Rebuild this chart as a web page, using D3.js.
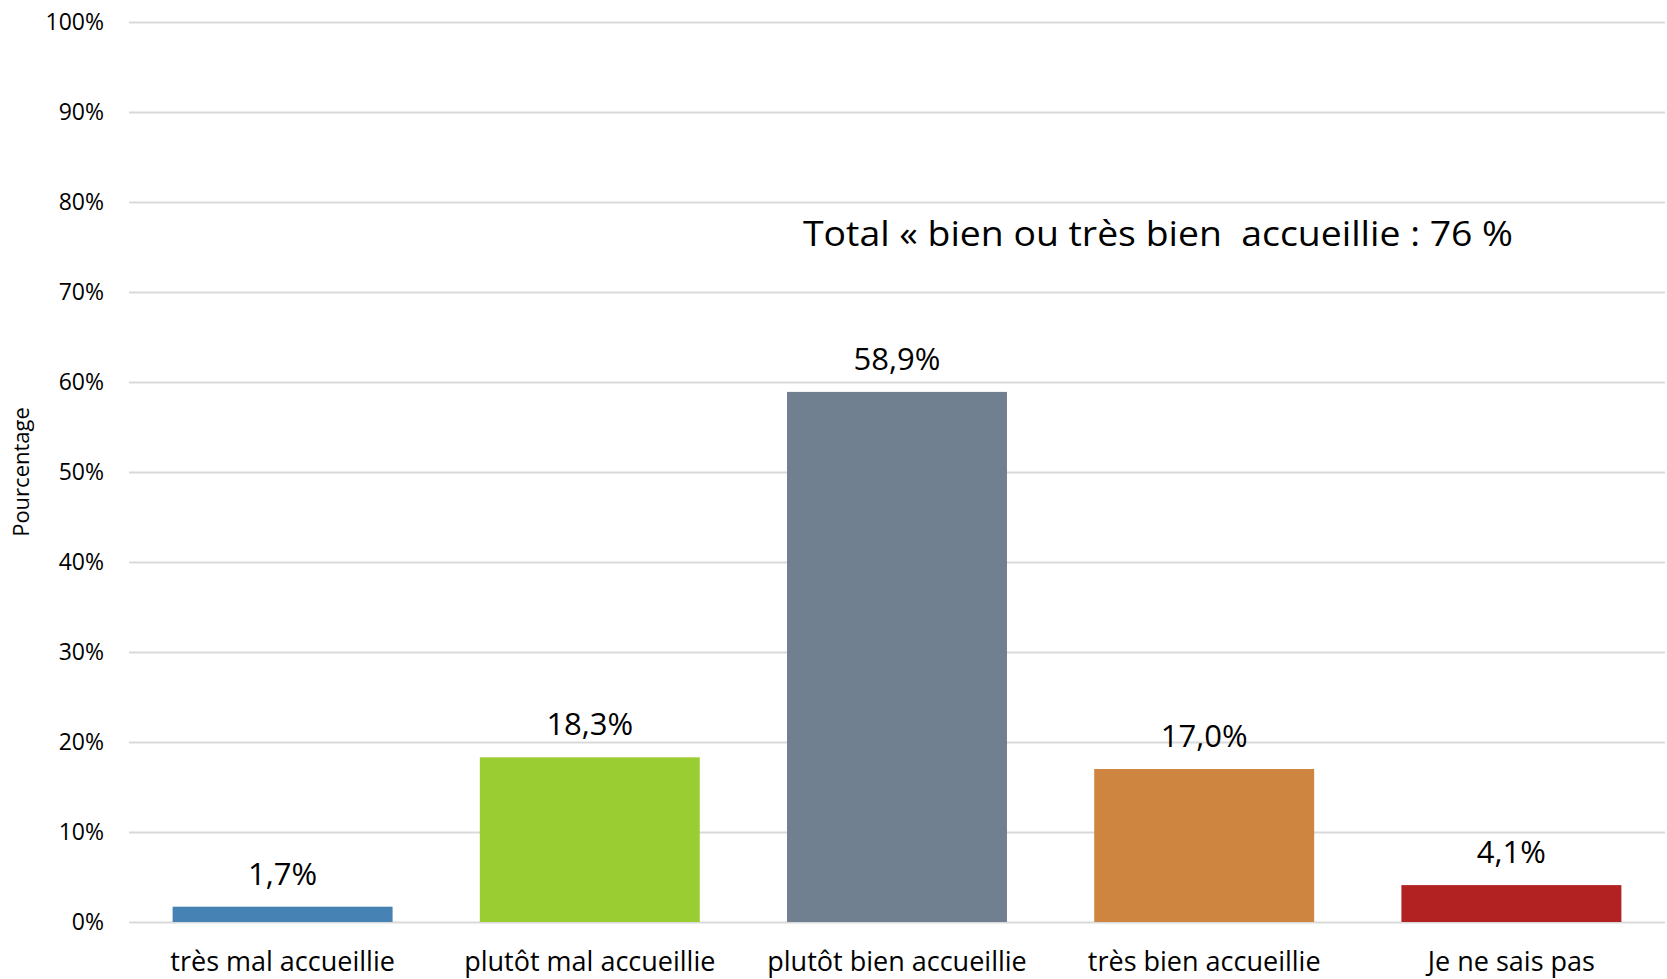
<!DOCTYPE html>
<html>
<head>
<meta charset="utf-8">
<script src="https://cdn.jsdelivr.net/npm/d3@7"></script>
<style>
  body { margin: 0; background: #fff; }
  text { font-family: "Open Sans", sans-serif; fill: #000; }
</style>
</head>
<body>
<script>
const categories = ['très mal accueillie', 'plutôt mal accueillie', 'plutôt bien accueillie', 'très bien accueillie', 'Je ne sais pas']
const values = [1.7, 18.3, 58.9, 17.0, 4.1]
const colors = ['#4682B4', '#9ACD32', '#708090', '#CD853F', '#B22222']
const yTicks = [0, 10, 20, 30, 40, 50, 60, 70, 80, 90, 100]
const annotation = 'Total « bien ou très bien  accueillie : 76 %'

const w = 1667
const h = 979
const plotTop = 22
const plotBottom = 922
const plotLeft = 129
const plotRight = 1665

const svg = d3.select('body')
  .append('svg')
  .attr('width', w)
  .attr('height', h)

const xScale = d3.scaleBand()
  .domain(categories)
  .range([plotLeft, plotRight])
  .paddingInner(0.284)
  .paddingOuter(0.142)

const yScale = d3.scaleLinear()
  .domain([0, 100])
  .range([plotBottom, plotTop])

// gridlines + y tick labels
const yAxis = d3.axisLeft(yScale)
  .tickValues(yTicks)
  .tickFormat(d => d + '%')
  .tickSize(-(plotRight - plotLeft))
  .tickPadding(25)

const gy = svg.append('g')
  .attr('transform', `translate(${plotLeft},0)`)
  .call(yAxis)
gy.select('.domain').remove()
gy.selectAll('.tick line').attr('stroke', '#d9d9d9').attr('stroke-width', 2)
gy.selectAll('.tick text').style('font-size', '23px').attr('fill', '#000')

// bars
svg.selectAll('rect.bar')
  .data(values)
  .enter()
  .append('rect')
  .attr('class', 'bar')
  .attr('x', (d, i) => xScale(categories[i]))
  .attr('y', d => yScale(d))
  .attr('width', xScale.bandwidth())
  .attr('height', d => yScale(0) - yScale(d))
  .attr('fill', (d, i) => colors[i])

// value labels
svg.selectAll('text.val')
  .data(values)
  .enter()
  .append('text')
  .attr('class', 'val')
  .attr('x', (d, i) => xScale(categories[i]) + xScale.bandwidth() / 2)
  .attr('y', d => yScale(d) - 22)
  .attr('text-anchor', 'middle')
  .style('font-size', '31px')
  .text(d => d.toFixed(1).replace('.', ',') + '%')

// x axis labels
const xAxis = d3.axisBottom(xScale).tickSize(0).tickPadding(0)
const gx = svg.append('g')
  .attr('transform', `translate(0,${plotBottom})`)
  .call(xAxis)
gx.select('.domain').remove()
gx.selectAll('.tick text')
  .attr('dy', null)
  .attr('y', 49)
  .style('font-size', '27px')
  .attr('fill', '#000')

// y axis title
svg.append('text')
  .attr('transform', `translate(29,${(plotTop + plotBottom) / 2}) rotate(-90)`)
  .attr('text-anchor', 'middle')
  .style('font-size', '22px')
  .text('Pourcentage')

// annotation
svg.append('text')
  .attr('x', 803)
  .attr('y', 246)
  .style('font-size', '34px')
  .style('white-space', 'pre')
  .attr('textLength', 710)
  .attr('lengthAdjust', 'spacingAndGlyphs')
  .text(annotation)
</script>
</body>
</html>
